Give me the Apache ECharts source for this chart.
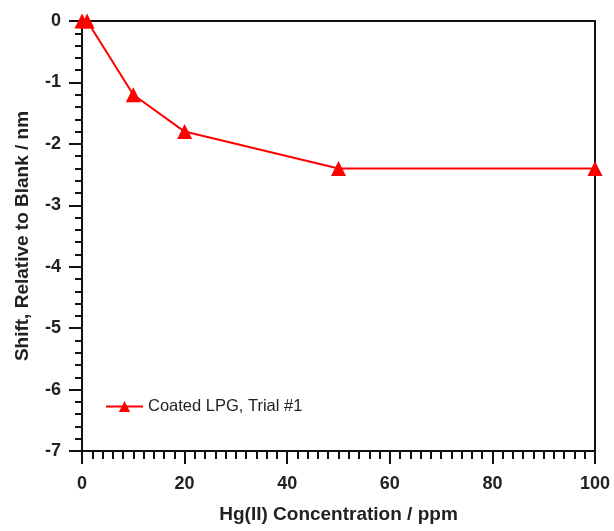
<!DOCTYPE html>
<html>
<head>
<meta charset="utf-8">
<script src="https://cdn.jsdelivr.net/npm/echarts@6/dist/echarts.min.js"></script>
<style>
  html, body { margin: 0; padding: 0; background: #fff; }
  #chart { width: 614px; height: 531px; }
</style>
</head>
<body>
<div id="chart"></div>
<script>
// Hg(II) concentration (ppm) and resulting wavelength shift (nm)
const concentration = [0, 1, 10, 20, 50, 100];
const shift = [0, 0, -1.2, -1.8, -2.4, -2.4];
const seriesName = 'Coated LPG, Trial #1';
const xTitle = 'Hg(II) Concentration / ppm';
const yTitle = 'Shift, Relative to Blank / nm';

const chart = echarts.init(document.getElementById('chart'), null, { renderer: 'canvas' });
const font = 'Liberation Sans, Arial, sans-serif';

chart.setOption({
  animation: false,
  backgroundColor: '#fff',
  grid: {
    left: 82, right: 19, top: 21, bottom: 80,
    containLabel: false, outerBoundsMode: 'none',
    show: true, borderColor: '#111', borderWidth: 2, backgroundColor: 'transparent'
  },
  legend: {
    left: 100, top: 393,
    itemWidth: 37, itemHeight: 14, itemGap: 5,
    textStyle: { fontFamily: font, fontSize: 16.5, color: '#222' },
    data: [seriesName]
  },
  xAxis: {
    type: 'value', min: 0, max: 100, interval: 20,
    name: xTitle, nameLocation: 'middle', nameGap: 54,
    nameTextStyle: { fontFamily: font, fontWeight: 'bold', fontSize: 19, color: '#222' },
    axisLine: { onZero: false, lineStyle: { color: '#111', width: 2 } },
    axisTick: { inside: false, length: 13, lineStyle: { color: '#111', width: 2 } },
    minorTick: { show: true, splitNumber: 10, length: 8, lineStyle: { color: '#111', width: 2 } },
    axisLabel: { fontFamily: font, fontWeight: 'bold', fontSize: 18, color: '#222', margin: 24 },
    splitLine: { show: false }
  },
  yAxis: {
    type: 'value', min: -7, max: 0, interval: 1,
    name: yTitle, nameLocation: 'middle', nameGap: 50, nameRotate: 90,
    nameTextStyle: { fontFamily: font, fontWeight: 'bold', fontSize: 19, color: '#222' },
    axisLine: { onZero: false, lineStyle: { color: '#111', width: 2 } },
    axisTick: { inside: false, length: 13, lineStyle: { color: '#111', width: 2 } },
    minorTick: { show: true, splitNumber: 5, length: 7, lineStyle: { color: '#111', width: 2 } },
    axisLabel: { fontFamily: font, fontWeight: 'bold', fontSize: 18, color: '#222', margin: 21 },
    splitLine: { show: false }
  },
  series: [{
    name: seriesName,
    type: 'line',
    data: concentration.map((c, i) => [c, shift[i]]),
    symbol: 'triangle', symbolSize: 15,
    itemStyle: { color: '#ff0000' },
    lineStyle: { color: '#ff0000', width: 2 },
    clip: false
  }]
});
</script>
</body>
</html>
